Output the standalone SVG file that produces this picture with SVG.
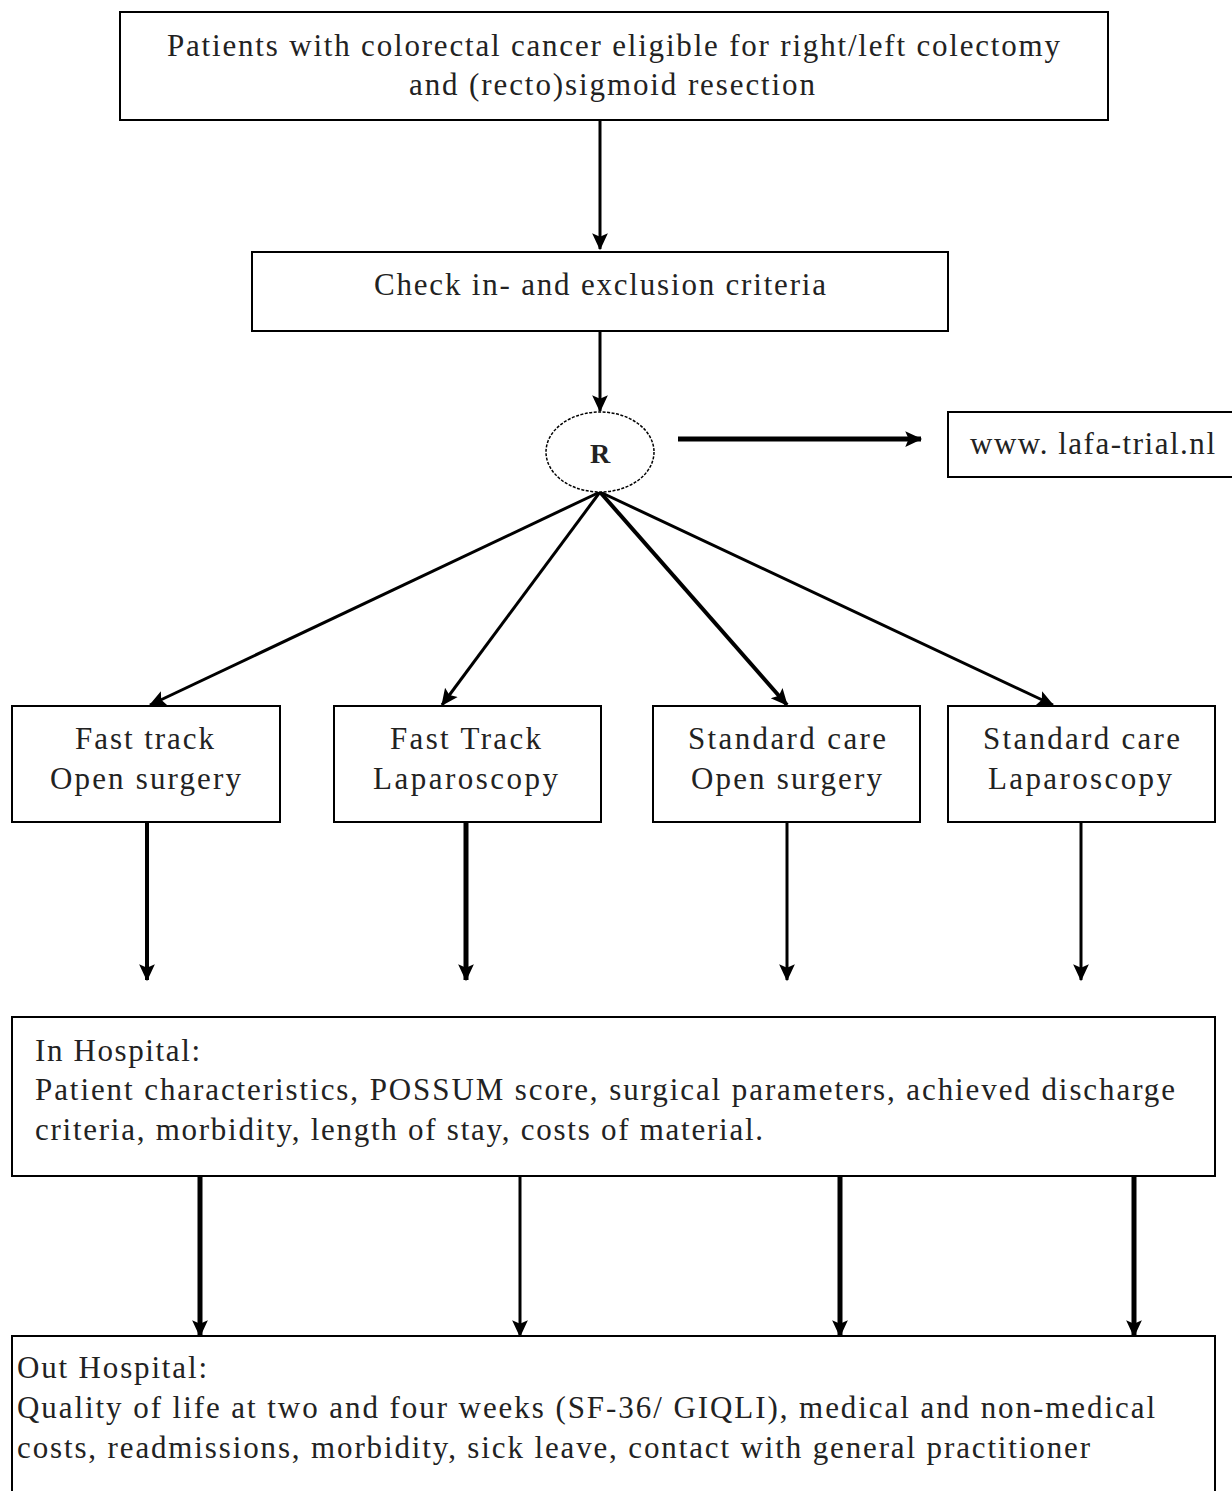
<svg xmlns="http://www.w3.org/2000/svg" width="1232" height="1491" viewBox="0 0 1232 1491">
<style>
.box{fill:#fff;stroke:#000;stroke-width:2}
.t{font-family:"Liberation Serif","Times New Roman",serif;font-size:31px;fill:#222}
.c{text-anchor:middle}
.a{stroke:#000;fill:none}
</style>
<defs>
<marker id="ah" markerUnits="userSpaceOnUse" markerWidth="18" markerHeight="18" refX="14" refY="8" orient="auto" viewBox="0 0 16 16">
<path d="M0,1 L15,8 L0,15 L3,8 Z" fill="#000"/>
</marker>
</defs>
<rect width="1232" height="1491" fill="#fff"/>
<g id="connectors">
<line class="a" x1="600" y1="120" x2="600" y2="249" stroke-width="3" marker-end="url(#ah)"/>
<line class="a" x1="600" y1="331" x2="600" y2="411" stroke-width="3" marker-end="url(#ah)"/>
<line class="a" x1="678" y1="439" x2="921" y2="439" stroke-width="5" marker-end="url(#ah)"/>
<line class="a" x1="600" y1="492" x2="150" y2="705" stroke-width="3" marker-end="url(#ah)"/>
<line class="a" x1="600" y1="492" x2="442" y2="705" stroke-width="3" marker-end="url(#ah)"/>
<line class="a" x1="600" y1="492" x2="787" y2="705" stroke-width="4" marker-end="url(#ah)"/>
<line class="a" x1="600" y1="492" x2="1053" y2="705" stroke-width="3" marker-end="url(#ah)"/>
<line class="a" x1="147" y1="822" x2="147" y2="980" stroke-width="4" marker-end="url(#ah)"/>
<line class="a" x1="466" y1="822" x2="466" y2="980" stroke-width="5" marker-end="url(#ah)"/>
<line class="a" x1="787" y1="822" x2="787" y2="980" stroke-width="3" marker-end="url(#ah)"/>
<line class="a" x1="1081" y1="822" x2="1081" y2="980" stroke-width="3" marker-end="url(#ah)"/>
<line class="a" x1="200" y1="1176" x2="200" y2="1336" stroke-width="5" marker-end="url(#ah)"/>
<line class="a" x1="520" y1="1176" x2="520" y2="1336" stroke-width="3" marker-end="url(#ah)"/>
<line class="a" x1="840" y1="1176" x2="840" y2="1336" stroke-width="5" marker-end="url(#ah)"/>
<line class="a" x1="1134" y1="1176" x2="1134" y2="1336" stroke-width="5" marker-end="url(#ah)"/>
</g>
<g id="n-patients">
<rect class="box" x="120" y="12" width="988" height="108"/>
<text class="t" x="167" y="56" textLength="893" lengthAdjust="spacing">Patients with colorectal cancer eligible for right/left colectomy</text>
<text class="t" x="409" y="95" textLength="406" lengthAdjust="spacing">and (recto)sigmoid resection</text>
</g>
<g id="n-check">
<rect class="box" x="252" y="252" width="696" height="79"/>
<text class="t" x="374" y="295" textLength="452" lengthAdjust="spacing">Check in- and exclusion criteria</text>
</g>
<g id="n-r">
<ellipse cx="600" cy="452" rx="54" ry="40" fill="#fff" stroke="#000" stroke-width="1.5" stroke-dasharray="3,1.5"/>
<text class="t c" x="600" y="463" style="font-size:28px;font-weight:bold">R</text>
</g>
<g id="n-www">
<rect class="box" x="948" y="412" width="300" height="65"/>
<text class="t" x="970" y="454" textLength="245" lengthAdjust="spacing">www. lafa-trial.nl</text>
</g>
<g id="n-ftopen">
<rect class="box" x="12" y="706" width="268" height="116"/>
<text class="t" x="75" y="749" textLength="139" lengthAdjust="spacing">Fast track</text>
<text class="t" x="50" y="789" textLength="191" lengthAdjust="spacing">Open surgery</text>
</g>
<g id="n-ftlap">
<rect class="box" x="334" y="706" width="267" height="116"/>
<text class="t" x="390" y="749" textLength="151" lengthAdjust="spacing">Fast Track</text>
<text class="t" x="373" y="789" textLength="185" lengthAdjust="spacing">Laparoscopy</text>
</g>
<g id="n-scopen">
<rect class="box" x="653" y="706" width="267" height="116"/>
<text class="t" x="688" y="749" textLength="198" lengthAdjust="spacing">Standard care</text>
<text class="t" x="691" y="789" textLength="191" lengthAdjust="spacing">Open surgery</text>
</g>
<g id="n-sclap">
<rect class="box" x="948" y="706" width="267" height="116"/>
<text class="t" x="983" y="749" textLength="197" lengthAdjust="spacing">Standard care</text>
<text class="t" x="988" y="789" textLength="184" lengthAdjust="spacing">Laparoscopy</text>
</g>
<g id="n-inhospital">
<rect class="box" x="12" y="1017" width="1203" height="159"/>
<text class="t" x="35" y="1061" textLength="165" lengthAdjust="spacing">In Hospital:</text>
<text class="t" x="35" y="1100" textLength="1140" lengthAdjust="spacing">Patient characteristics, POSSUM score, surgical parameters, achieved discharge</text>
<text class="t" x="35" y="1140" textLength="728" lengthAdjust="spacing">criteria, morbidity, length of stay, costs of material.</text>
</g>
<g id="n-outhospital">
<rect class="box" x="12" y="1336" width="1203" height="180"/>
<text class="t" x="17" y="1378" textLength="190" lengthAdjust="spacing">Out Hospital:</text>
<text class="t" x="17" y="1418" textLength="1138" lengthAdjust="spacing">Quality of life at two and four weeks (SF-36/ GIQLI), medical and non-medical</text>
<text class="t" x="17" y="1458" textLength="1073" lengthAdjust="spacing">costs, readmissions, morbidity, sick leave, contact with general practitioner</text>
</g>
</svg>
